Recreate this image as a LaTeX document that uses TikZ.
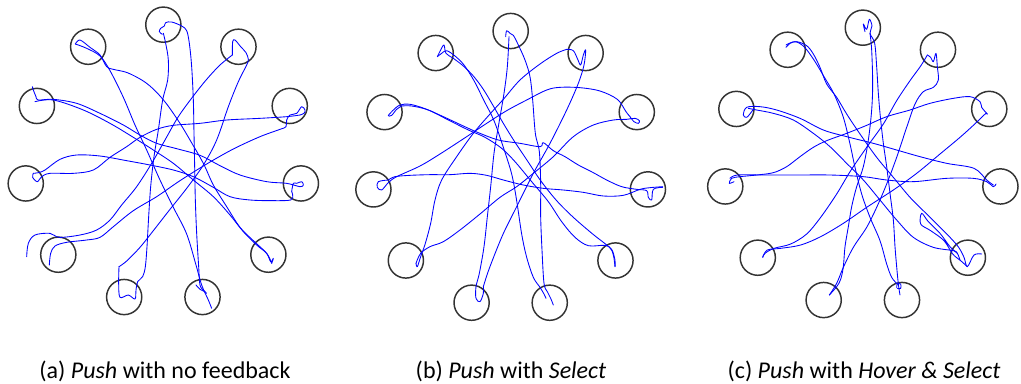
\documentclass[tikz,border=0pt]{standalone}
\usepackage{fontspec}
\setmainfont{Carlito}
\usetikzlibrary{calc}
\tikzset{
  target/.style={circle, draw=black!80, line width=1.1pt, minimum size=26.4pt, inner sep=0pt},
  traj/.style={blue, line width=0.65pt, line join=round, line cap=round},
  captext/.style={font=\fontsize{18}{20}\selectfont, inner sep=0pt, anchor=base},
  panel/.style={x=0.25pt, y=-0.25pt}
}
\newcommand{\trj}[1]{\draw[traj] plot[smooth, tension=0.55] coordinates {#1};}
\begin{document}
\begin{tikzpicture}[x=0.75pt, y=-0.75pt]
\useasboundingbox (0,0) rectangle (1021,383);

% ---------------- panel (a) ----------------
\begin{scope}[panel]
\foreach \k in {0,...,10} \node[target] (a\k) at ($(490,491)+(-90+32.727*\k:417)$) {};
\trj{(487,103) (478,95) (482,85) (493,78) (497,68) (515,66) (545,78) (560,92) (568,130) (575,200) (580,300) (582,400) (584,500) (586,600) (590,700) (596,800) (600,855) (612,872) (620,880)}
\trj{(588,855) (600,868) (615,875)}
\trj{(490,100) (497,130) (505,180) (503,240) (488,300) (475,390) (462,470) (452,560) (446,650) (441,740) (436,800) (428,830) (413,845) (408,870) (405,897) (385,885) (360,892) (356,850) (357,800)}
\trj{(357,800) (380,783) (420,742) (460,692) (510,628) (560,565) (610,495) (650,420) (685,320) (715,245) (740,195) (745,178) (738,158) (722,140) (705,120) (698,125) (697,165)}
\trj{(697,165) (660,195) (620,238) (580,288) (535,350) (495,420) (455,490) (410,560) (365,615) (330,660) (290,690) (240,705) (178,712) (150,700) (105,705) (85,730) (80,770)}
\trj{(148,795) (152,760) (165,738) (200,727) (260,720) (300,712) (340,680) (400,632) (470,590) (540,542) (620,492) (700,447) (780,410) (840,388) (858,380) (860,360) (870,345) (890,340) (905,320) (915,330) (912,340) (900,345)}
\trj{(900,345) (860,350) (780,355) (680,360) (600,370) (520,376) (470,388) (420,412) (380,440) (330,472) (280,510) (220,520) (150,520) (125,530) (112,545) (98,532) (100,520)}
\trj{(100,520) (115,518) (135,510) (180,478) (230,465) (300,468) (380,482) (450,495) (520,510) (580,530) (640,562) (690,590) (750,600) (820,602) (872,600) (878,585) (875,575)}
\trj{(875,575) (880,550) (890,550) (905,545) (910,555) (900,560) (860,550) (800,545) (720,525) (660,497) (600,466) (530,446) (470,430) (420,405) (370,375) (300,340) (230,310) (160,298) (115,300) (108,290) (100,270) (97,260)}
\trj{(105,305) (160,300) (250,330) (330,370) (400,412) (460,450) (520,490) (580,540) (640,590) (690,645) (730,695) (770,735) (800,760) (812,785) (820,775) (815,790)}
\trj{(815,790) (800,760) (760,722) (720,682) (680,620) (640,555) (610,490) (570,420) (540,370) (500,312) (465,272) (430,243) (382,218) (340,208) (320,200) (300,165) (270,142) (240,120) (226,132)}
\trj{(226,132) (260,145) (300,168) (330,212) (370,292) (405,375) (440,450) (480,540) (520,622) (560,702) (588,795) (605,855) (625,900) (635,925)}
\end{scope}

% ---------------- panel (b) ----------------
\begin{scope}[xshift=255pt, panel]
\foreach \k in {0,...,10} \node[target] (b\k) at ($(512,509)+(-90+32.727*\k:416)$) {};
\trj{(497,110) (500,92) (510,100) (520,106) (535,135) (555,180) (570,230) (578,300) (586,400) (598,455) (602,550) (602,650) (606,750) (612,850) (622,875) (632,895) (640,915)}
\trj{(507,110) (502,200) (492,280) (475,380) (462,460) (452,560) (442,650) (432,740) (418,820) (408,860) (408,895) (420,905) (430,880) (430,860)}
\trj{(430,860) (448,805) (488,705) (530,620) (580,520) (630,430) (680,330) (715,250) (732,195) (737,150) (730,165) (722,195) (714,180) (700,152) (680,148)}
\trj{(680,148) (650,160) (600,192) (540,240) (490,298) (450,342) (400,400) (350,470) (305,540) (285,600) (272,670) (256,730) (242,770) (232,800) (228,790)}
\trj{(228,790) (242,760) (270,740) (310,725) (360,690) (420,642) (480,592) (530,560) (580,520) (640,470) (700,410) (760,375) (820,360) (860,358) (885,355) (898,362) (895,370) (882,365) (870,350)}
\trj{(870,350) (858,335) (832,298) (780,273) (720,263) (660,262) (620,270) (560,300) (500,332) (440,370) (380,410) (300,462) (240,498) (170,530) (145,548) (125,570) (112,562) (115,545) (145,540)}
\trj{(145,540) (165,530) (210,526) (270,524) (330,524) (390,520) (440,526) (490,540) (550,555) (610,565) (670,570) (730,577) (790,588) (850,586) (900,568) (930,563) (968,560)}
\trj{(968,562) (940,568) (935,600) (925,592) (920,572) (890,568) (845,560) (800,540) (760,518) (715,495) (675,470) (640,452) (610,428) (600,440) (540,430) (475,420) (415,398) (370,378) (310,350) (255,326) (210,313) (180,315) (158,332) (145,347) (155,346) (170,328) (185,318)}
\trj{(185,318) (215,318) (265,330) (325,360) (385,390) (435,412) (485,445) (525,485) (575,545) (625,605) (665,665) (705,712) (745,737) (795,736) (815,748) (825,780) (825,800)}
\trj{(825,800) (820,765) (808,742) (758,702) (700,652) (650,602) (602,542) (562,482) (522,422) (490,370) (460,318) (430,268) (400,228) (370,198) (340,175) (318,160) (312,135) (302,150) (292,170)}
\trj{(292,170) (305,160) (320,152) (345,168) (372,195) (402,242) (432,302) (462,362) (490,442) (515,522) (530,602) (545,702) (560,772) (580,832) (600,862) (612,882) (618,895)}
\end{scope}

% ---------------- panel (c) ----------------
\begin{scope}[xshift=510pt, panel]
\foreach \k in {0,...,10} \node[target] (c\k) at ($(548.5,500)+(-90+32.727*\k:417)$) {};
\trj{(555,95) (550,72) (560,88) (568,58) (576,78) (570,100) (584,130) (590,200) (595,280) (601,350) (610,430) (620,500) (630,580) (640,660) (645,740) (650,800) (655,852) (660,885)}
\trj{(650,862) (652,852) (662,852) (662,865) (652,865)}
\trj{(570,100) (575,150) (578,250) (575,330) (565,420) (550,500) (530,560) (515,620) (505,680) (495,740) (490,800) (482,838) (470,860) (448,885)}
\trj{(448,885) (470,850) (490,802) (520,742) (560,682) (590,622) (620,552) (650,472) (680,382) (705,312) (730,275) (760,262) (775,240) (772,200) (768,160) (760,185) (752,172) (742,165)}
\trj{(742,165) (722,198) (690,242) (650,302) (610,372) (560,442) (512,512) (470,582) (422,652) (380,702) (332,732) (282,745) (255,760) (248,772)}
\trj{(248,772) (262,750) (302,745) (362,735) (422,710) (490,670) (560,622) (640,570) (710,520) (780,462) (840,412) (880,376) (905,352) (918,340) (922,342)}
\trj{(922,342) (905,322) (900,305) (870,290) (820,295) (750,310) (690,330) (620,350) (560,376) (500,400) (440,422) (400,442) (360,470) (320,500) (280,518) (230,525) (180,530) (155,535) (148,550) (162,545)}
\trj{(150,535) (172,525) (250,525) (350,525) (450,525) (550,530) (620,540) (700,545) (800,535) (880,535) (920,545) (940,560) (948,552)}
\trj{(940,555) (920,540) (882,505) (800,490) (720,470) (650,450) (580,430) (500,410) (430,390) (360,355) (290,330) (240,320) (200,322) (190,345) (200,352) (215,335) (222,325)}
\trj{(205,325) (230,330) (280,340) (340,360) (400,400) (450,440) (500,490) (550,540) (600,600) (650,660) (700,712) (760,742) (820,752) (832,760) (840,780)}
\trj{(832,760) (810,740) (780,700) (745,665) (725,640) (722,672) (752,692) (792,722) (818,762) (842,782) (862,800)}
\trj{(905,762) (882,765) (862,800) (852,772) (836,742) (810,712) (780,682) (740,642) (690,592) (640,532) (590,472) (540,402) (500,342) (470,292) (440,252) (420,202) (400,162) (380,137) (350,125) (330,130) (318,142) (325,135)}
\trj{(318,135) (345,125) (372,140) (402,180) (432,230) (462,282) (490,352) (510,432) (525,502) (545,582) (570,652) (600,722) (620,792) (635,832) (652,852)}
\end{scope}

% ---------------- captions ----------------
\node[captext] (capa) at (165,378) {(a) \textit{Push} with no feedback};
\node[captext] (capb) at (511,378) {(b) \textit{Push} with \textit{Select}};
\node[captext] (capc) at (864,378) {(c) \textit{Push} with \textit{Hover \& Select}};
\end{tikzpicture}
\end{document}
